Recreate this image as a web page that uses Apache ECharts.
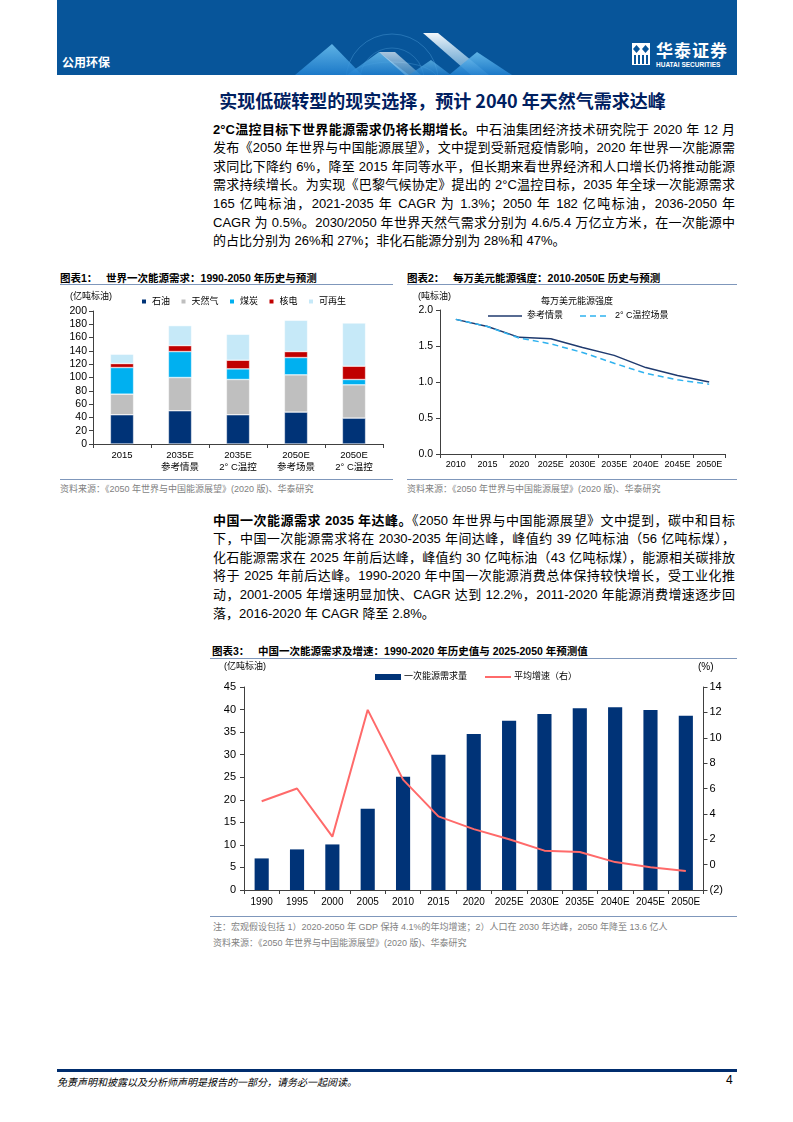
<!DOCTYPE html>
<html><head><meta charset="utf-8">
<script src="https://cdn.jsdelivr.net/npm/echarts@6/dist/echarts.min.js"></script>
<style>
body{margin:0;background:#fff;}
#page{position:relative;width:793px;height:1122px;overflow:hidden;font-family:"Liberation Sans","Noto Sans CJK SC",sans-serif;color:#000;}
.abs{position:absolute;}
.para{position:absolute;left:213px;width:522px;font-size:13px;line-height:18.6px;}
.para div{text-align:justify;text-align-last:justify;}
.para div.last{text-align-last:left;}
.ctitle{position:absolute;font-size:10.5px;font-weight:bold;white-space:nowrap;}
.rule{position:absolute;height:1px;background:#7f97bb;}
.src{position:absolute;font-size:9px;color:#7f7f7f;white-space:nowrap;}
</style></head>
<body><div id="page">
<div class="abs" style="left:57px;top:0;width:680px;height:75px;background:#07559a;overflow:hidden;">
<svg width="680" height="75" style="position:absolute;left:0;top:0">
<defs>
<linearGradient id="g1" x1="0" y1="0" x2="0" y2="1"><stop offset="0" stop-color="#6ec3f2"/><stop offset="1" stop-color="#1f7fd0"/></linearGradient>
<linearGradient id="g2" x1="0" y1="0" x2="0" y2="1"><stop offset="0" stop-color="#ffffff" stop-opacity="0.95"/><stop offset="1" stop-color="#9fd6f6" stop-opacity="0.5"/></linearGradient>
</defs>
<circle cx="335" cy="80" r="46" fill="none" stroke="#5fb0e8" stroke-opacity="0.35" stroke-width="1"/>
<circle cx="335" cy="80" r="32" fill="none" stroke="#5fb0e8" stroke-opacity="0.3" stroke-width="1"/>
<ellipse cx="335" cy="80" rx="46" ry="18" fill="none" stroke="#5fb0e8" stroke-opacity="0.3"/>
<polygon points="238,75 275,44 305,75" fill="url(#g1)" opacity="0.85"/>
<polygon points="290,75 322,52 352,75" fill="url(#g1)" opacity="0.8"/>
<polygon points="322,52 338,52 364,75 348,75" fill="url(#g2)" opacity="0.7"/>
<polygon points="366,33 381,33 432,75 414,75" fill="url(#g2)"/>
<polygon points="392,75 420,52 455,75" fill="url(#g1)" opacity="0.85"/>
<polygon points="352,75 374,60 394,75" fill="url(#g1)" opacity="0.7"/>
</svg>
<div class="abs" style="left:5px;top:53px;color:#fff;font-size:12px;font-weight:bold;font-family:'Noto Sans CJK SC';">公用环保</div>
<svg class="abs" style="left:575px;top:43px" width="18" height="22">
<rect x="0" y="0" width="18" height="22" fill="#fff"/>
<polygon points="4.5,2 8,6 4.5,10 1,6" fill="#07559a"/>
<polygon points="13.5,2 17,6 13.5,10 10,6" fill="#07559a"/>
<rect x="2" y="12" width="2" height="9" fill="#07559a"/>
<rect x="6" y="12" width="2" height="9" fill="#07559a"/>
<rect x="10" y="12" width="2" height="9" fill="#07559a"/>
<rect x="14" y="12" width="2" height="9" fill="#07559a"/>
</svg>
<div class="abs" style="left:599px;top:40px;color:#fff;font-size:17px;font-weight:bold;font-family:'Noto Sans CJK SC';letter-spacing:1px;line-height:20px;">华泰证券</div>
<div class="abs" style="left:599px;top:61px;color:#fff;font-size:6.5px;font-weight:bold;line-height:7px;">HUATAI SECURITIES</div>
</div>

<div class="abs" style="left:142px;top:88px;width:601px;text-align:center;font-size:18px;font-weight:bold;color:#002060;font-family:'Noto Sans CJK SC';line-height:24px;">实现低碳转型的现实选择，预计 2040 年天然气需求达峰</div>

<div class="para" style="top:120.7px;">
<div><b>2°C温控目标下世界能源需求仍将长期增长。</b>中石油集团经济技术研究院于 2020 年 12 月</div>
<div>发布《2050 年世界与中国能源展望》，文中提到受新冠疫情影响，2020 年世界一次能源需</div>
<div>求同比下降约 6%，降至 2015 年同等水平，但长期来看世界经济和人口增长仍将推动能源</div>
<div>需求持续增长。为实现《巴黎气候协定》提出的 2°C温控目标，2035 年全球一次能源需求</div>
<div>165 亿吨标油，2021-2035 年 CAGR 为 1.3%；2050 年 182 亿吨标油，2036-2050 年</div>
<div>CAGR 为 0.5%。2030/2050 年世界天然气需求分别为 4.6/5.4 万亿立方米，在一次能源中</div>
<div class="last">的占比分别为 26%和 27%；非化石能源分别为 28%和 47%。</div>
</div>

<div class="ctitle" style="left:60px;top:270px;">图表1：&nbsp;&nbsp; 世界一次能源需求：1990-2050 年历史与预测</div>
<div class="rule" style="left:60px;top:284px;width:333px;"></div>
<div class="ctitle" style="left:407px;top:270px;">图表2：&nbsp;&nbsp; 每万美元能源强度：2010-2050E 历史与预测</div>
<div class="rule" style="left:407px;top:284px;width:330px;"></div>
<div id="c1" class="abs" style="left:60px;top:286px;width:335px;height:190px;"></div>
<div id="c2" class="abs" style="left:400px;top:286px;width:337px;height:190px;"></div>
<div class="rule" style="left:60px;top:479px;width:333px;"></div>
<div class="rule" style="left:407px;top:479px;width:330px;"></div>
<div class="src" style="left:60px;top:482px;">资料来源：《2050 年世界与中国能源展望》(2020 版)、华泰研究</div>
<div class="src" style="left:407px;top:482px;">资料来源：《2050 年世界与中国能源展望》(2020 版)、华泰研究</div>

<div class="para" style="top:511.7px;">
<div><b>中国一次能源需求 2035 年达峰。</b>《2050 年世界与中国能源展望》文中提到，碳中和目标</div>
<div>下，中国一次能源需求将在 2030-2035 年间达峰，峰值约 39 亿吨标油（56 亿吨标煤），</div>
<div>化石能源需求在 2025 年前后达峰，峰值约 30 亿吨标油（43 亿吨标煤），能源相关碳排放</div>
<div>将于 2025 年前后达峰。1990-2020 年中国一次能源消费总体保持较快增长，受工业化推</div>
<div>动，2001-2005 年增速明显加快、CAGR 达到 12.2%，2011-2020 年能源消费增速逐步回</div>
<div class="last">落，2016-2020 年 CAGR 降至 2.8%。</div>
</div>

<div class="ctitle" style="left:212px;top:643px;">图表3：&nbsp;&nbsp; 中国一次能源需求及增速：1990-2020 年历史值与 2025-2050 年预测值</div>
<div class="rule" style="left:210px;top:658px;width:527px;"></div>
<div id="c3" class="abs" style="left:205px;top:660px;width:535px;height:250px;"></div>
<div class="rule" style="left:210px;top:916px;width:527px;"></div>
<div class="src" style="left:213px;top:920px;">注：宏观假设包括 1）2020-2050 年 GDP 保持 4.1%的年均增速；2）人口在 2030 年达峰，2050 年降至 13.6 亿人</div>
<div class="src" style="left:213px;top:936px;">资料来源：《2050 年世界与中国能源展望》(2020 版)、华泰研究</div>

<div class="abs" style="left:57px;top:1069px;width:680px;height:3px;background:#002d6e;"></div>
<div class="abs" style="left:57px;top:1074px;font-size:10px;font-style:italic;font-family:'Noto Sans CJK SC';white-space:nowrap;">免责声明和披露以及分析师声明是报告的一部分，请务必一起阅读。</div>
<div class="abs" style="left:726px;top:1073px;font-size:12px;">4</div>
</div>

<script>
// ---- Chart 1 data ----
const c1Cats = ['2015', '2035E\n参考情景', '2035E\n2° C温控', '2050E\n参考场景', '2050E\n2° C温控'];
const c1Oil = [44, 50, 44, 48, 39];
const c1Gas = [31, 50, 53, 56, 50];
const c1Coal = [40, 39, 16, 26, 8];
const c1Nuclear = [6, 9, 13, 9, 20];
const c1Renew = [14, 30, 39, 47, 65];
const c1Ticks = [0, 20, 40, 60, 80, 100, 120, 140, 160, 180, 200];

// ---- Chart 2 data ----
const c2Years = ['2010', '2015', '2020', '2025E', '2030E', '2035E', '2040E', '2045E', '2050E'];
const c2Ref = [1.87, 1.77, 1.62, 1.60, 1.48, 1.37, 1.20, 1.09, 1.00];
const c2Two = [1.87, 1.77, 1.61, 1.53, 1.41, 1.26, 1.12, 1.03, 0.97];

// ---- Chart 3 data ----
const c3Years = ['1990', '1995', '2000', '2005', '2010', '2015', '2020', '2025E', '2030E', '2035E', '2040E', '2045E', '2050E'];
const c3Demand = [7.0, 9.0, 10.1, 18.0, 25.1, 30.0, 34.6, 37.5, 39.0, 40.3, 40.5, 39.9, 38.6];
const c3Growth = [5.0, 6.0, 2.2, 12.2, 6.7, 3.8, 2.8, 2.0, 1.1, 1.0, 0.2, -0.2, -0.5];

const FF = '"Liberation Sans","Noto Sans CJK SC",sans-serif';
const AX = '#404040';
const txt = (x, y, text, size) => ({type:'text', x, y, silent:true,
  style:{text, fill:'#000', font:(size||9)+'px '+FF, verticalAlign:'middle', textVerticalAlign:'middle'}});

// Chart 1
(function(){
  const ch = echarts.init(document.getElementById('c1'), null, {renderer:'canvas'});
  const mk = (name, data, color) => ({name, type:'bar', stack:'t', data, barWidth:'40%',
    itemStyle:{color, borderColor:'#fff', borderWidth:0.5}});
  ch.setOption({
    animation:false,
    textStyle:{fontFamily:FF},
    grid:{left:33, right:12, top:25, bottom:32, containLabel:false, outerBoundsMode:'none'},
    legend:{left:75, top:6, itemWidth:6, itemHeight:6, itemGap:9.5, icon:'rect',
      textStyle:{fontSize:9, color:'#000', fontFamily:FF},
      data:['石油','天然气','煤炭','核电','可再生']},
    graphic:[txt(10, 11, '(亿吨标油)')],
    xAxis:{type:'category', data:c1Cats,
      axisLine:{lineStyle:{color:AX}}, axisTick:{show:true, length:4, lineStyle:{color:AX}},
      axisLabel:{color:'#000', fontSize:9.5, lineHeight:12, margin:5, interval:0, fontFamily:FF}},
    yAxis:{type:'value', min:c1Ticks[0], max:c1Ticks[c1Ticks.length-1], interval:20,
      splitLine:{show:false},
      axisLine:{show:true, lineStyle:{color:AX}}, axisTick:{show:true, length:4, lineStyle:{color:AX}},
      axisLabel:{color:'#000', fontSize:10.5, margin:6, fontFamily:FF}},
    series:[
      mk('石油', c1Oil, '#003377'),
      mk('天然气', c1Gas, '#bfbfbf'),
      mk('煤炭', c1Coal, '#00b0f0'),
      mk('核电', c1Nuclear, '#c00000'),
      mk('可再生', c1Renew, '#c6e9f8')
    ]
  });
})();

// Chart 2
(function(){
  const ch = echarts.init(document.getElementById('c2'), null, {renderer:'canvas'});
  ch.setOption({
    animation:false,
    textStyle:{fontFamily:FF},
    grid:{left:40, right:12, top:24, bottom:22, containLabel:false, outerBoundsMode:'none'},
    title:{text:'每万美元能源强度', left:172, top:6, textAlign:'center',
      textStyle:{fontSize:9, fontWeight:'normal', color:'#000', fontFamily:FF}},
    graphic:[
      txt(18, 11, '(吨标油)'),
      {type:'line', silent:true, shape:{x1:88, y1:30, x2:122, y2:30}, style:{stroke:'#1f3a6e', lineWidth:1.5}},
      txt(127, 30, '参考情景'),
      {type:'line', silent:true, shape:{x1:180, y1:30, x2:207, y2:30}, style:{stroke:'#2fb2ef', lineWidth:1.5, lineDash:[6,4]}},
      txt(215, 30, '2° C温控场景')
    ],
    xAxis:{type:'category', data:c2Years, boundaryGap:true,
      axisLine:{lineStyle:{color:AX}}, axisTick:{show:true, length:4, lineStyle:{color:AX}},
      axisLabel:{color:'#000', fontSize:9, margin:6, interval:0, fontFamily:FF}},
    yAxis:{type:'value', min:0, max:2, interval:0.5, splitLine:{show:false},
      axisLine:{show:true, lineStyle:{color:AX}}, axisTick:{show:true, length:4, lineStyle:{color:AX}},
      axisLabel:{color:'#000', fontSize:10.5, margin:7, fontFamily:FF, formatter:v=>v.toFixed(1)}},
    series:[
      {name:'参考情景', type:'line', data:c2Ref, symbol:'none', lineStyle:{color:'#1f3a6e', width:1.5}, itemStyle:{color:'#1f3a6e'}},
      {name:'2° C温控场景', type:'line', data:c2Two, symbol:'none', lineStyle:{color:'#2fb2ef', width:1.5, type:[6,4]}, itemStyle:{color:'#2fb2ef'}}
    ]
  });
})();

// Chart 3
(function(){
  const ch = echarts.init(document.getElementById('c3'), null, {renderer:'canvas'});
  ch.setOption({
    animation:false,
    textStyle:{fontFamily:FF},
    grid:{left:39, right:36.5, top:27, bottom:20, containLabel:false, outerBoundsMode:'none'},
    graphic:[
      txt(19, 7, '(亿吨标油)'),
      txt(493, 7, '(%)', 10),
      {type:'rect', silent:true, shape:{x:170, y:14, width:26, height:6}, style:{fill:'#003377'}},
      txt(199, 17, '一次能源需求量'),
      {type:'line', silent:true, shape:{x1:280, y1:17, x2:306, y2:17}, style:{stroke:'#ff6a6a', lineWidth:2}},
      txt(309, 17, '平均增速（右）')
    ],
    xAxis:{type:'category', data:c3Years,
      axisLine:{lineStyle:{color:AX}}, axisTick:{show:true, length:4, lineStyle:{color:AX}},
      axisLabel:{color:'#000', fontSize:10, margin:7, interval:0, fontFamily:FF}},
    yAxis:[
      {type:'value', min:0, max:45, interval:5, splitLine:{show:false},
        axisLine:{show:true, lineStyle:{color:AX}}, axisTick:{show:true, length:4, lineStyle:{color:AX}},
        axisLabel:{color:'#000', fontSize:11, margin:8, fontFamily:FF}},
      {type:'value', min:-2, max:14, interval:2, splitLine:{show:false}, position:'right',
        axisLine:{show:true, lineStyle:{color:AX}}, axisTick:{show:true, length:4, lineStyle:{color:AX}},
        axisLabel:{color:'#000', fontSize:11, margin:6, fontFamily:FF, formatter:v=>v<0?'('+(-v)+')':String(v)}}
    ],
    series:[
      {name:'一次能源需求量', type:'bar', data:c3Demand, barWidth:'40%', itemStyle:{color:'#003377'}},
      {name:'平均增速（右）', type:'line', yAxisIndex:1, data:c3Growth, symbol:'none',
        lineStyle:{color:'#ff6a6a', width:2}, itemStyle:{color:'#ff6a6a'}}
    ]
  });
})();
</script>
</body></html>
